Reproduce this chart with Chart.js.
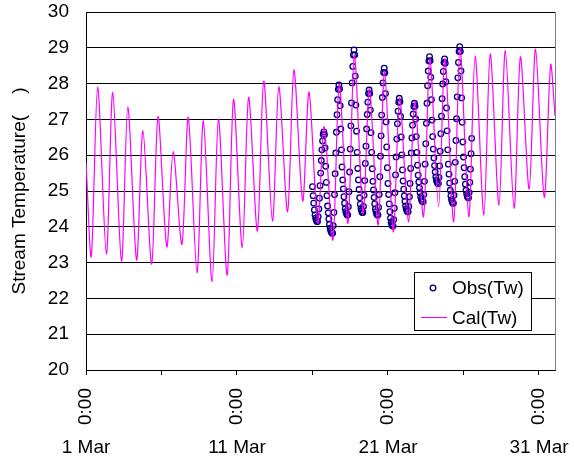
<!DOCTYPE html>
<html>
<head>
<meta charset="utf-8">
<script src="https://cdn.jsdelivr.net/npm/chart.js@4.4.0/dist/chart.umd.min.js"></script>
<style>
body{margin:0;background:#fff;}
</style>
</head>
<body>
<canvas id="c" width="574" height="459"></canvas>
<script>
// series names
var seriesNames = ['Obs(Tw)', 'Cal(Tw)'];
var yTitle = 'Stream Temperature(    )';

// x axis labels (days since 1 Mar 0:00)
var labelDays = [0, 10, 20, 30];
var dateLabels = ['1 Mar', '11 Mar', '21 Mar', '31 Mar'];
var timeLabel = '0:00';
var xMax = 31.06;

// calculated: daily minimum (morning) and maximum (evening), 1 Mar .. 31 Mar
var calTroughHour = 8.4;
var calPeakHour = 18.5;
var calStart = 25.8;
var calEnd = 27.1;
var calTrough = [23.17, 23.24, 23.04, 23.07, 22.96, 23.44, 23.51, 22.72, 22.47, 22.65,
                 23.42, 23.88, 24.16, 24.42, 24.72, 24.10, 23.63, 24.10, 24.38, 24.05,
                 23.86, 24.14, 24.28, 24.56, 24.14, 24.28, 24.33, 24.61, 24.52, 25.05, 24.82];
var calPeak   = [27.90, 27.75, 27.35, 26.68, 27.08, 26.10, 27.06, 26.96, 27.01, 27.56,
                 27.62, 28.07, 27.91, 28.38, 27.76, 26.80, 28.00, 28.80, 27.85, 28.35,
                 27.60, 27.50, 28.70, 28.70, 29.00, 28.77, 28.83, 28.92, 28.75, 28.96, 28.52];

// observed: hourly from 16 Mar 0:00
var obsStartDay = 15;
var obsTemp = [
  25.12, 24.87, 24.66, 24.47, 24.33, 24.24, 24.19, 24.15, 24.15, 24.28, 24.50, 24.80, 25.15, 25.50, 25.85, 26.15, 26.40, 26.58, 26.65, 26.57, 26.20, 25.69, 25.24, 24.87,
  24.58, 24.39, 24.22, 24.07, 23.96, 23.89, 23.85, 23.82, 23.82, 24.03, 24.40, 24.90, 25.48, 26.06, 26.64, 27.13, 27.55, 27.84, 27.96, 27.85, 27.38, 26.73, 26.15, 25.67,
  25.31, 25.06, 24.84, 24.66, 24.51, 24.42, 24.37, 24.33, 24.33, 24.56, 24.98, 25.53, 26.17, 26.82, 27.46, 28.02, 28.48, 28.80, 28.94, 28.80, 28.21, 27.40, 26.67, 26.08,
  25.63, 25.31, 25.04, 24.81, 24.63, 24.51, 24.45, 24.40, 24.40, 24.57, 24.88, 25.29, 25.77, 26.25, 26.73, 27.14, 27.48, 27.72, 27.82, 27.72, 27.26, 26.63, 26.08, 25.62,
  25.27, 25.03, 24.82, 24.64, 24.50, 24.42, 24.36, 24.33, 24.33, 24.54, 24.90, 25.40, 25.97, 26.54, 27.12, 27.61, 28.02, 28.31, 28.43, 28.30, 27.72, 26.93, 26.23, 25.65,
  25.21, 24.90, 24.64, 24.42, 24.24, 24.13, 24.06, 24.02, 24.02, 24.20, 24.52, 24.95, 25.45, 25.95, 26.45, 26.88, 27.23, 27.48, 27.59, 27.49, 27.08, 26.51, 26.01, 25.59,
  25.28, 25.05, 24.86, 24.71, 24.58, 24.50, 24.45, 24.42, 24.42, 24.57, 24.84, 25.21, 25.63, 26.06, 26.48, 26.84, 27.15, 27.36, 27.45, 27.37, 27.01, 26.52, 26.08, 25.72,
  25.44, 25.25, 25.09, 24.95, 24.84, 24.77, 24.73, 24.70, 24.70, 24.90, 25.27, 25.75, 26.32, 26.89, 27.45, 27.94, 28.35, 28.63, 28.75, 28.64, 28.18, 27.55, 26.98, 26.52,
  26.17, 25.92, 25.71, 25.53, 25.39, 25.30, 25.25, 25.21, 25.21, 25.38, 25.70, 26.11, 26.60, 27.09, 27.58, 27.99, 28.34, 28.59, 28.69, 28.57, 28.05, 27.32, 26.68, 26.15,
  25.75, 25.47, 25.22, 25.02, 24.86, 24.76, 24.70, 24.66, 24.66, 24.88, 25.27, 25.80, 26.41, 27.02, 27.63, 28.16, 28.59, 28.90, 29.03, 28.90, 28.35, 27.60, 26.92, 26.37,
  25.95, 25.65, 25.40, 25.19, 25.02, 24.92, 24.85, 24.81, 24.81, 24.96, 25.24, 25.61, 26.04, 26.47
];

var obsColor = '#000080';
var calColor = '#FF00FF';
var fontFam = '"Liberation Sans", Arial, sans-serif';

Chart.defaults.font.family = fontFam;
Chart.defaults.color = '#000';

var calPoints = [{x: 0, y: calStart}];
for (var d = 0; d < calTrough.length; d++) {
	calPoints.push({x: d + calTroughHour / 24, y: calTrough[d]});
	calPoints.push({x: d + calPeakHour / 24, y: calPeak[d]});
}
calPoints.push({x: xMax, y: calEnd});

var obsPoints = obsTemp.map(function(v, i){
	return {x: obsStartDay + i / 24, y: v};
});

function noPad(s){
	s.paddingLeft = 0;
	s.paddingRight = 0;
	s.paddingTop = 0;
	s.paddingBottom = 0;
}

var frame = {
	id: 'frame',
	afterDraw: function(chart){
		var ctx = chart.ctx, a = chart.chartArea;
		ctx.save();
		ctx.strokeStyle = '#808080';
		ctx.lineWidth = 1;
		ctx.beginPath();
		ctx.moveTo(Math.round(a.right) + 0.5, a.top);
		ctx.lineTo(Math.round(a.right) + 0.5, a.bottom);
		ctx.stroke();

		// legend box inside the plot
		var x = Math.round(a.right) - 141, y = Math.round(a.top) + 260, w = 117, h = 58;
		ctx.fillStyle = '#fff';
		ctx.fillRect(x, y, w, h);
		ctx.strokeStyle = '#000';
		ctx.strokeRect(x + 0.5, y + 0.5, w, h);
		ctx.beginPath();
		ctx.arc(x + 19, y + 16, 2.8, 0, 2 * Math.PI);
		ctx.strokeStyle = obsColor;
		ctx.lineWidth = 1.3;
		ctx.stroke();
		ctx.beginPath();
		ctx.moveTo(x + 7, y + 45.5);
		ctx.lineTo(x + 33, y + 45.5);
		ctx.strokeStyle = calColor;
		ctx.lineWidth = 1;
		ctx.stroke();
		ctx.fillStyle = '#000';
		ctx.font = '19px ' + fontFam;
		ctx.textBaseline = 'middle';
		ctx.fillText(seriesNames[0], x + 38, y + 17);
		ctx.fillText(seriesNames[1], x + 38, y + 47);
		ctx.restore();
	}
};

new Chart(document.getElementById('c'), {
	type: 'line',
	data: {
		datasets: [
			{
				label: seriesNames[1],
				data: calPoints,
				borderColor: calColor,
				borderWidth: 1.2,
				pointRadius: 0,
				tension: 0.3,
				order: 0
			},
			{
				label: seriesNames[0],
				data: obsPoints,
				showLine: false,
				pointStyle: 'circle',
				pointRadius: 2.8,
				pointBorderWidth: 1.3,
				borderColor: obsColor,
				backgroundColor: 'rgba(0,0,0,0)',
				order: 1
			}
		]
	},
	options: {
		responsive: false,
		animation: false,
		devicePixelRatio: 1,
		layout: {padding: {top: 12, right: 19, left: 0, bottom: 0}},
		plugins: {legend: {display: false}, tooltip: {enabled: false}},
		scales: {
			x: {
				type: 'linear',
				position: 'bottom',
				weight: 0,
				min: 0,
				max: xMax,
				afterBuildTicks: function(s){
					s.ticks = [0, 5, 10, 15, 20, 25, 30].map(function(v){ return {value: v}; });
				},
				afterFit: function(s){ s.height = 58; noPad(s); },
				grid: {drawOnChartArea: false, color: '#000', tickLength: 5},
				border: {color: '#000'},
				ticks: {
					autoSkip: false,
					minRotation: 90,
					maxRotation: 90,
					padding: 13,
					font: {size: 19},
					callback: function(v){ return labelDays.indexOf(v) >= 0 ? timeLabel : ''; }
				}
			},
			x2: {
				type: 'linear',
				position: 'bottom',
				weight: 1,
				min: 0,
				max: xMax,
				afterBuildTicks: function(s){
					s.ticks = labelDays.map(function(v){ return {value: v}; });
				},
				afterFit: function(s){ s.height = 31; noPad(s); },
				grid: {display: false},
				border: {display: false},
				ticks: {
					autoSkip: false,
					maxRotation: 0,
					padding: 0,
					font: {size: 19},
					callback: function(v){ return dateLabels[labelDays.indexOf(v)]; }
				}
			},
			y: {
				min: 20,
				max: 30,
				afterFit: function(s){ s.width = 86; noPad(s); },
				grid: {color: '#000', drawTicks: false},
				border: {color: '#000'},
				ticks: {stepSize: 1, padding: 17, font: {size: 19}},
				title: {display: true, text: yTitle, font: {size: 19}, padding: {top: 8, bottom: 0}}
			}
		}
	},
	plugins: [frame]
});
</script>
</body>
</html>
